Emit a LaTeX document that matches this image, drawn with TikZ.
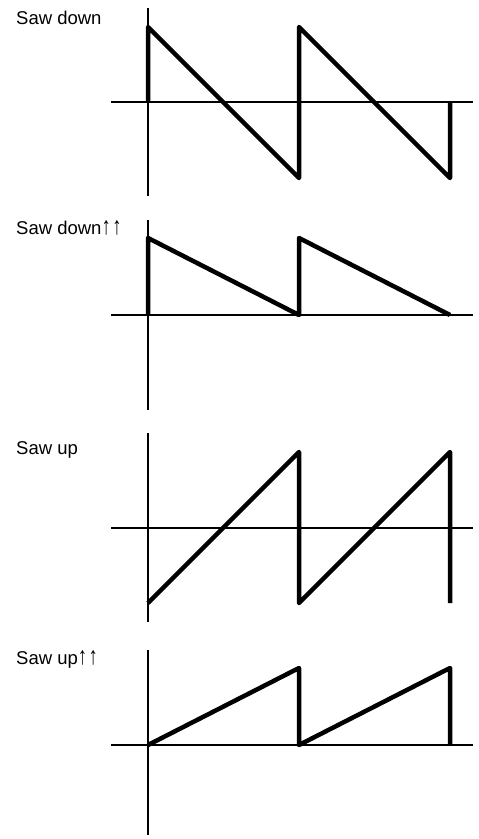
\documentclass[tikz,border=0pt]{standalone}
\usepackage{fontspec}
\setmainfont{Liberation Sans}
\newcommand{\uparr}{\scalebox{1}[1.35]{↑}}
\begin{document}
\begin{tikzpicture}[x=1bp,y=-1bp,
  axis/.style={line width=1.5bp},
  wave/.style={line width=4.5bp,line join=round},
  lbl/.style={anchor=base west,inner sep=0pt,font=\fontsize{18.5bp}{21bp}\selectfont}]
\useasboundingbox (0,0) rectangle (479,839);
% Panel 1: Saw down
\node[lbl] (l1) at (16,24) {Saw down};
\draw[axis] (148,8) -- (148,196);
\draw[axis] (111,102) -- (473,102);
\draw[wave] (148,102) -- (148,27) -- (299,178) -- (299,27) -- (450,178) -- (450,102);
% Panel 2: Saw down up-up
\node[lbl] (l2) at (16,234) {Saw down\uparr\kern1.5bp\uparr};
\draw[axis] (148,220) -- (148,410);
\draw[axis] (111,315) -- (473,315);
\draw[wave] (148,315) -- (148,238) -- (299,315) -- (299,238) -- (450,315);
% Panel 3: Saw up
\node[lbl] (l3) at (16,454) {Saw up};
\draw[axis] (148,433) -- (148,622);
\draw[axis] (111,528) -- (473,528);
\draw[wave] (148,603) -- (299,452) -- (299,603) -- (450,452) -- (450,603);
% Panel 4: Saw up up-up
\node[lbl] (l4) at (16,664) {Saw up\uparr\kern1.5bp\uparr};
\draw[axis] (148,650) -- (148,835);
\draw[axis] (111,745) -- (473,745);
\draw[wave] (148,745) -- (299,668) -- (299,745) -- (450,668) -- (450,745);
\end{tikzpicture}
\end{document}
